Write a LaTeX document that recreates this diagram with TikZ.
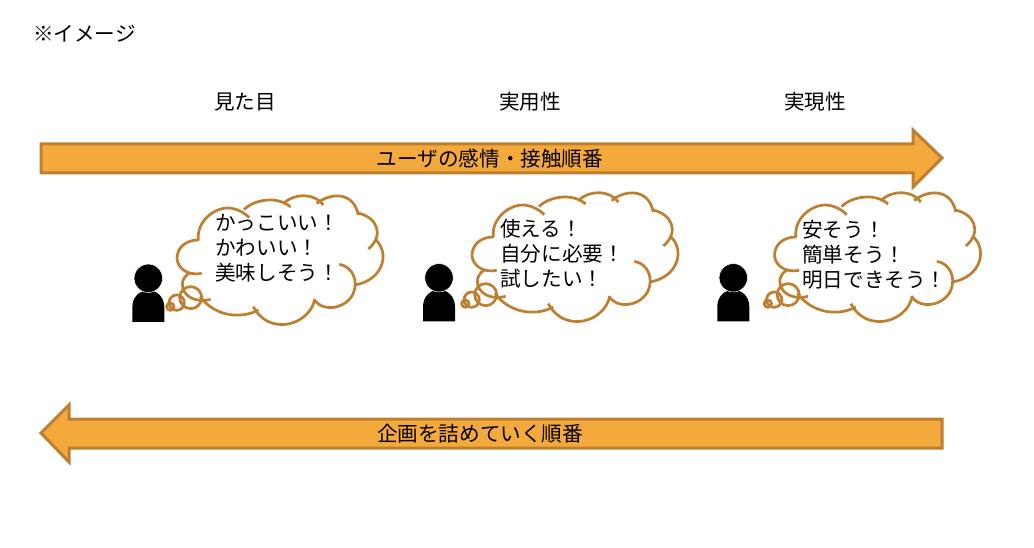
\documentclass[tikz,border=0pt]{standalone}
\usepackage{fontspec}
\setmainfont{Noto Sans CJK JP}
\definecolor{arrowfill}{HTML}{F4A93C}
\definecolor{arrowline}{HTML}{BE7F30}
\tikzset{
  x=1pt,y=-1pt,
  bigarrow/.style={draw=arrowline,fill=arrowfill,line width=3pt,miter limit=10},
  cloudline/.style={draw=arrowline,line width=2.7pt,line cap=butt},
  txt/.style={font=\fontsize{20.6}{25}\selectfont,inner sep=0pt,text=black},
  thought/.style={txt,align=left,anchor=west},
  cloud/.pic={
    \begin{scope}[x=.3333pt,y=-.3333pt]
      \draw[cloudline] (235,167) .. controls (228,105) and (290,62) .. (335,70) .. controls (355,73) and (375,85) .. (388,98);
      \draw[cloudline] (372,74) .. controls (400,45) and (470,30) .. (512,66);
      \draw[cloudline] (490,56) .. controls (525,22) and (585,25) .. (610,60);
      \draw[cloudline] (590,56) .. controls (625,25) and (700,15) .. (715,90);
      \draw[cloudline] (713,84) .. controls (770,95) and (795,150) .. (745,192);
      \draw[cloudline] (768,165) .. controls (810,205) and (790,285) .. (705,300);
      \draw[cloudline] (658,238) .. controls (700,245) and (715,290) .. (700,325) .. controls (680,370) and (610,385) .. (582,343);
      \draw[cloudline] (584,343) .. controls (575,395) and (510,435) .. (450,412) .. controls (428,403) and (410,385) .. (400,365);
      \draw[cloudline] (415,375) .. controls (370,400) and (290,400) .. (240,335);
      \draw[cloudline] (272,343) .. controls (230,355) and (185,335) .. (187,295) .. controls (188,285) and (195,272) .. (207,265);
      \draw[cloudline] (245,265) .. controls (195,275) and (165,240) .. (172,210) .. controls (178,180) and (205,165) .. (235,165);
      \draw[cloudline] (212,338) circle[radius=33];
      \draw[cloudline] (170,353) circle[radius=23];
      \draw[cloudline] (151,365) circle[radius=11];
    \end{scope}
  },
  person/.pic={
    \fill[black] (-16,43.5) -- (-16,29) .. controls (-16,18) and (-8,12) .. (0,12)
      .. controls (8,12) and (16,18) .. (16,29) -- (16,43.5) -- cycle;
    \draw[fill=black,draw=white,line width=.5pt] (0,0) circle[radius=14.2];
  }
}
\begin{document}
\begin{tikzpicture}
\useasboundingbox (0,0) rectangle (1034,548);
\fill[white] (0,0) rectangle (1034,548);

\node[txt,anchor=west] (note) at (33,34) {※イメージ};
\node[txt] (h1) at (245,102) {見た目};
\node[txt] (h2) at (530,102) {実用性};
\node[txt] (h3) at (815,102) {実現性};

\draw[bigarrow] (41,144) -- (913,144) -- (913,130) -- (942,158) -- (913,187) -- (913,173) -- (41,173) -- cycle;
\node[txt] (forward) at (490,159) {ユーザの感情・接触順番};

\draw[bigarrow] (942,419) -- (69,419) -- (69,405) -- (41,433) -- (69,462) -- (69,448) -- (942,448) -- cycle;
\node[txt] (backward) at (480,434) {企画を詰めていく順番};

\pic at (120,185) {cloud};
\pic at (415,182) {cloud};
\pic at (717.5,182) {cloud};

\pic at (148.3,278.3) {person};
\pic at (439,277.8) {person};
\pic at (733.3,277.8) {person};

\node[thought] (t1) at (215,248) {かっこいい！\\かわいい！\\美味しそう！};
\node[thought] (t2) at (500,254) {使える！\\自分に必要！\\試したい！};
\node[thought] (t3) at (802,255) {安そう！\\簡単そう！\\明日できそう！};
\end{tikzpicture}
\end{document}
